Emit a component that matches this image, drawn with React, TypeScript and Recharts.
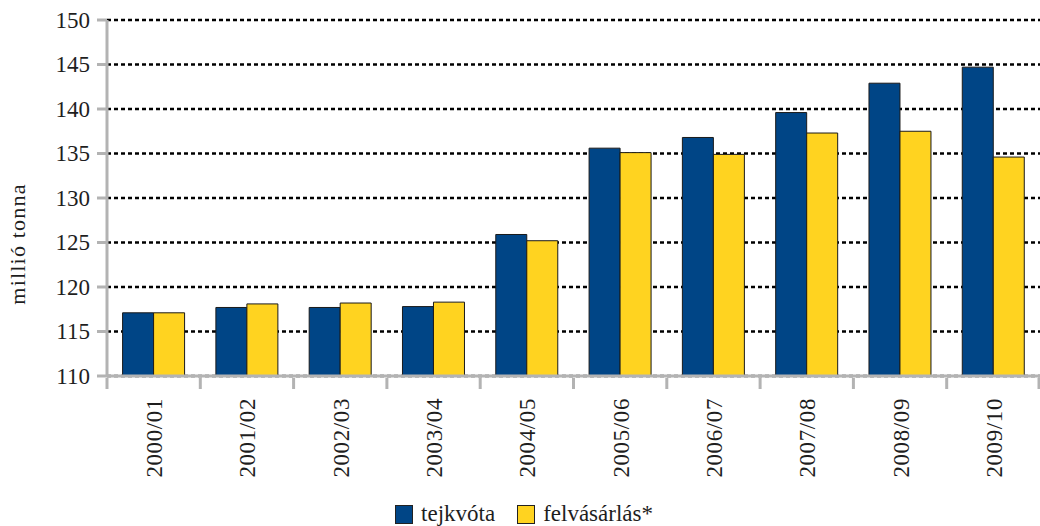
import React from "react";
import { BarChart, Bar, XAxis, YAxis, CartesianGrid, Legend } from "recharts";

const seasons = [
  "2000/01",
  "2001/02",
  "2002/03",
  "2003/04",
  "2004/05",
  "2005/06",
  "2006/07",
  "2007/08",
  "2008/09",
  "2009/10",
];
const quota = [117.1, 117.7, 117.7, 117.8, 125.9, 135.6, 136.8, 139.6, 142.9, 144.7];
const purchase = [117.1, 118.1, 118.2, 118.3, 125.2, 135.1, 134.9, 137.3, 137.5, 134.6];
const yTicks = [110, 115, 120, 125, 130, 135, 140, 145, 150];

const data = seasons.map((s, i) => ({ name: s, quota: quota[i], purchase: purchase[i] }));

const FONT = "Liberation Serif";
const AXIS_GRAY = "#b3b3b3";
const BLUE = "#004586";
const YELLOW = "#ffd320";
const TEXT = "#1e1e1e";
const BAND = 933 / seasons.length;

function XTick({ x, y, payload, index }: any) {
  const top = y - 10;
  return (
    <g>
      <line x1={x - BAND / 2} x2={x - BAND / 2} y1={top} y2={top + 11} stroke={AXIS_GRAY} strokeWidth={3} />
      {index === seasons.length - 1 && (
        <line x1={x + BAND / 2 - 1} x2={x + BAND / 2 - 1} y1={top} y2={top + 11} stroke={AXIS_GRAY} strokeWidth={3} />
      )}
      <text
        x={x + 1}
        y={top + 20}
        transform={`rotate(-90, ${x + 1}, ${top + 20})`}
        textAnchor="end"
        dominantBaseline="central"
        style={{ fontFamily: FONT, fontSize: 23, letterSpacing: 0.6 }}
        fill={TEXT}
      >
        {payload.value}
      </text>
    </g>
  );
}

function YTick({ x, y, payload }: any) {
  return (
    <text
      x={x}
      y={y}
      textAnchor="end"
      dominantBaseline="central"
      style={{ fontFamily: FONT, fontSize: 23 }}
      fill={TEXT}
    >
      {payload.value}
    </text>
  );
}

function YLabel() {
  return (
    <text
      x={17}
      y={244}
      transform="rotate(-90, 17, 244)"
      textAnchor="middle"
      dominantBaseline="central"
      style={{ fontFamily: FONT, fontSize: 22, letterSpacing: 1.2 }}
      fill={TEXT}
    >
      millió tonna
    </text>
  );
}

function LegendBox() {
  const items = [
    { label: "tejkvóta", color: BLUE },
    { label: "felvásárlás*", color: YELLOW },
  ];
  return (
    <div
      style={{
        display: "flex",
        justifyContent: "center",
        gap: 22,
        fontFamily: FONT,
        fontSize: 23,
        color: TEXT,
        paddingLeft: 8,
        paddingTop: 15,
      }}
    >
      {items.map((it) => (
        <span key={it.label} style={{ display: "flex", alignItems: "center" }}>
          <span
            style={{
              width: 16,
              height: 17,
              background: it.color,
              border: "1px solid #222",
              marginRight: 8,
              display: "inline-block",
            }}
          />
          {it.label}
        </span>
      ))}
    </div>
  );
}

export default function App() {
  return (
    <div style={{ position: "absolute", left: 0, top: 0, background: "#fff", fontFamily: FONT }}>
      <BarChart
        width={1040}
        height={526}
        data={data}
        margin={{ top: 20, right: 0, left: 0, bottom: 0 }}
        barCategoryGap="16.7%"
        barGap={0}
      >
        <CartesianGrid
          vertical={false}
          stroke="#000"
          strokeWidth={2.5}
          strokeDasharray="4 3"
        />
        <XAxis
          dataKey="name"
          interval={0}
          height={110}
          stroke={AXIS_GRAY}
          strokeWidth={3}
          tickSize={10}
          tickLine={false}
          tick={<XTick />}
        />
        <YAxis
          domain={[110, 150]}
          ticks={yTicks}
          allowDataOverflow
          width={107}
          stroke={AXIS_GRAY}
          strokeWidth={3}
          tickSize={10}
          tickMargin={7}
          tickLine={{ stroke: AXIS_GRAY, strokeWidth: 3 }}
          tick={<YTick />}
          label={<YLabel />}
        />
        <Legend verticalAlign="bottom" height={40} content={<LegendBox />} />
        <Bar
          dataKey="quota"
          fill={BLUE}
          stroke="#1a1a1a"
          strokeWidth={1}
          isAnimationActive={false}
        />
        <Bar
          dataKey="purchase"
          fill={YELLOW}
          stroke="#1a1a1a"
          strokeWidth={1}
          isAnimationActive={false}
        />
      </BarChart>
    </div>
  );
}
